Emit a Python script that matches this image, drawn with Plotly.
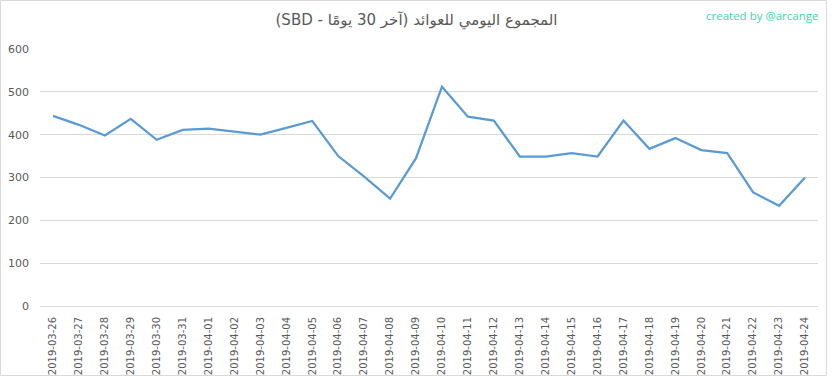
import plotly.graph_objects as go

dates = ["2019-03-26", "2019-03-27", "2019-03-28", "2019-03-29", "2019-03-30", "2019-03-31",
         "2019-04-01", "2019-04-02", "2019-04-03", "2019-04-04", "2019-04-05", "2019-04-06",
         "2019-04-07", "2019-04-08", "2019-04-09", "2019-04-10", "2019-04-11", "2019-04-12",
         "2019-04-13", "2019-04-14", "2019-04-15", "2019-04-16", "2019-04-17", "2019-04-18",
         "2019-04-19", "2019-04-20", "2019-04-21", "2019-04-22", "2019-04-23", "2019-04-24"]
rewards = [444, 423, 398, 437, 388, 411, 414, 407, 400, 416, 432, 350, 302, 251, 345,
           512, 442, 433, 349, 349, 357, 349, 433, 367, 392, 364, 357, 265, 234, 300]
y_ticks = [0, 100, 200, 300, 400, 500, 600]

title_text = "\u202bالمجموع اليومي للعوائد (آخر 30 يومًا - SBD)\u202c"
watermark = "created by @arcange"

L, T, W, H = 40, 49, 778, 257

fig = go.Figure()
fig.add_trace(go.Scatter(
    x=dates, y=rewards, mode="lines",
    line=dict(color="#5B9BD5", width=2.25),
    hoverinfo="x+y",
))

fig.update_layout(
    width=833, height=379,
    margin=dict(l=L, r=833 - L - W, t=T, b=379 - T - H, autoexpand=False),
    paper_bgcolor="white", plot_bgcolor="white",
    showlegend=False,
    font=dict(family="Open Sans, DejaVu Sans, sans-serif", color="#595959"),
    title=dict(text=title_text, x=0.5, xanchor="center", y=1 - 20 / 379, yanchor="middle",
               font=dict(family="DejaVu Sans, sans-serif", size=15, color="#595959")),
    xaxis=dict(type="category", range=[-0.5, len(dates) - 0.5], tickangle=-90,
               showgrid=False, showline=True, linecolor="#d9d9d9", linewidth=1,
               ticks="", ticklabelstandoff=6, automargin=False,
               tickfont=dict(family="DejaVu Sans, sans-serif", size=10, color="#595959"),
               fixedrange=True),
    yaxis=dict(range=[0, 600], tickvals=y_ticks, showgrid=True, gridcolor="#d9d9d9",
               gridwidth=1, zeroline=False, showline=False, ticks="",
               ticklabelstandoff=10, automargin=False,
               tickfont=dict(family="DejaVu Sans, sans-serif", size=11, color="#595959"),
               fixedrange=True),
    annotations=[dict(text=watermark, xref="paper", yref="paper", x=1.0 + 2 / W, y=1.0,
                      xanchor="right", yanchor="bottom", yshift=24, showarrow=False,
                      font=dict(family="Open Sans, DejaVu Sans, sans-serif", size=11.5,
                                color="#3DD6A3"))],
    shapes=[dict(type="rect", xref="paper", yref="paper",
                 x0=(0.5 - L) / W, x1=(826.5 - L) / W,
                 y0=-69.5 / H, y1=1 + 48.5 / H,
                 line=dict(color="#d9d9d9", width=1), fillcolor="rgba(0,0,0,0)", layer="below")],
)

fig.write_html("out.html", config={"displayModeBar": False},
               post_script="document.body.style.margin='0px';")
